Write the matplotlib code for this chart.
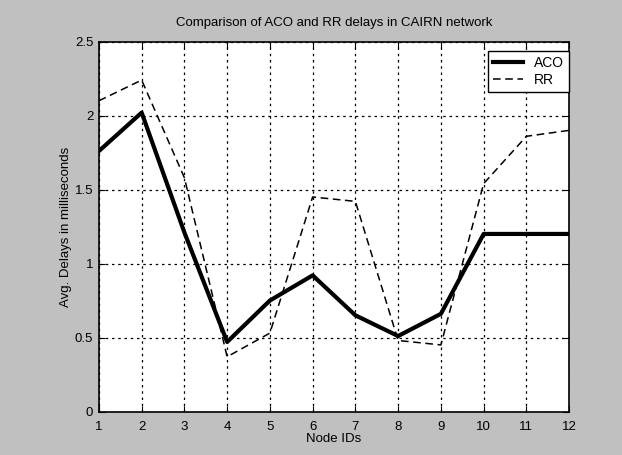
import matplotlib
matplotlib.use("Agg")
import matplotlib.pyplot as plt

node_ids = [1, 2, 3, 4, 5, 6, 7, 8, 9, 10, 11, 12]
aco = [1.76, 2.02, 1.21, 0.47, 0.75, 0.92, 0.65, 0.51, 0.66, 1.20, 1.20, 1.20]
rr = [2.10, 2.24, 1.58, 0.37, 0.53, 1.45, 1.42, 0.48, 0.45, 1.54, 1.86, 1.90]
yticks = [0, 0.5, 1, 1.5, 2, 2.5]
ytick_labels = ["0", "0.5", "1", "1.5", "2", "2.5"]

plt.rcParams['font.family'] = ['Liberation Sans', 'DejaVu Sans']

fig = plt.figure(figsize=(6.22, 4.55), dpi=100, facecolor='#c0c0c0')
ax = fig.add_axes([0.159, 0.0956, 0.756, 0.813])
ax.set_facecolor('white')

ax.plot(node_ids, aco, color='black', lw=3.0, label='ACO')
ax.plot(node_ids, rr, color='black', lw=1.1, ls=(0, (5, 3)), label='RR')

ax.set_xlim(1, 12)
ax.set_ylim(0, 2.5)
ax.set_xticks(node_ids)
ax.set_yticks(yticks)
ax.set_yticklabels(ytick_labels)
ax.tick_params(direction='in', top=True, right=True, labelsize=9.5, length=4, color='black')
ax.tick_params(axis='x', pad=7)
ax.tick_params(axis='y', pad=4)
ax.grid(True, color='black', ls=(0, (2, 3)), lw=0.9)
for s in ax.spines.values():
    s.set_linewidth(1.2)

ax.set_title('Comparison of ACO and RR delays in CAIRN network', fontsize=9.5, pad=11)
ax.set_xlabel('Node IDs', fontsize=9.5, labelpad=0)
ax.set_ylabel('Avg. Delays in milliseconds', fontsize=9.5, labelpad=2)

leg = ax.legend(loc='upper right', bbox_to_anchor=(1.0, 0.975), fontsize=10,
                frameon=True, fancybox=False, edgecolor='black', framealpha=1,
                handlelength=2.2, borderpad=0.35, labelspacing=0.25, borderaxespad=0.0)
leg.get_frame().set_linewidth(1.0)

fig.savefig('out.png', dpi=100, facecolor=fig.get_facecolor())
